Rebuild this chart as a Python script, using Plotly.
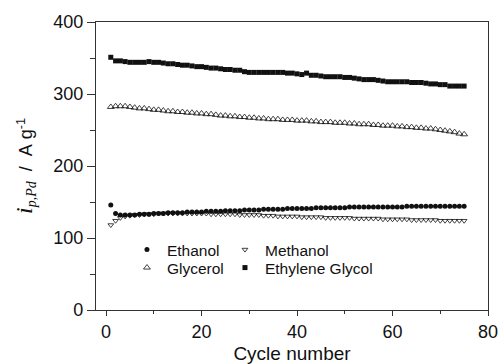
import plotly.graph_objects as go

cycles = list(range(1, 76))

ethanol = [146, 134, 132, 132, 132, 132, 133, 133, 133, 134,
           134, 134, 135, 135, 135, 135, 136, 136, 136, 136,
           137, 137, 137, 137, 138, 138, 138, 138, 139, 139,
           139, 139, 140, 140, 140, 140, 140, 141, 141, 141,
           141, 141, 141, 142, 142, 142, 142, 142, 142, 142,
           143, 143, 143, 143, 143, 143, 143, 143, 143, 143,
           143, 143, 144, 144, 144, 144, 144, 144, 144, 144,
           144, 144, 144, 144, 144]

methanol = [118, 124, 128, 130, 131, 132, 132, 133, 133, 133,
            134, 134, 134, 134, 134, 134, 134, 134, 134, 134,
            134, 133, 133, 133, 133, 133, 133, 132, 132, 132,
            132, 132, 131, 131, 131, 130, 130, 130, 130, 130,
            129, 129, 129, 129, 129, 128, 128, 128, 128, 128,
            128, 127, 127, 127, 127, 127, 127, 126, 126, 126,
            126, 126, 126, 125, 125, 125, 125, 125, 125, 124,
            124, 124, 124, 124, 124]

glycerol = [282, 283, 283, 283, 282, 281, 280, 280, 279, 278,
            278, 277, 276, 276, 275, 275, 274, 274, 273, 273,
            272, 272, 271, 270, 270, 269, 269, 268, 268, 267,
            267, 266, 266, 265, 265, 265, 264, 264, 264, 263,
            263, 263, 262, 262, 261, 261, 261, 260, 260, 260,
            259, 259, 258, 258, 258, 257, 257, 256, 256, 256,
            255, 255, 254, 254, 253, 253, 252, 252, 251, 250,
            249, 248, 247, 245, 244]

ethylene_glycol = [351, 346, 346, 345, 344, 344, 344, 344, 345, 344,
                   344, 343, 342, 342, 341, 340, 340, 339, 338, 338,
                   337, 336, 336, 335, 334, 334, 333, 333, 331, 330,
                   330, 330, 330, 330, 330, 330, 330, 329, 329, 328,
                   327, 329, 326, 326, 325, 324, 324, 324, 324, 323,
                   323, 322, 321, 320, 320, 320, 319, 318, 317, 317,
                   317, 317, 317, 316, 316, 316, 315, 314, 314, 313,
                   313, 311, 311, 311, 311]

x_ticks = [0, 20, 40, 60, 80]
y_ticks = [0, 100, 200, 300, 400]

FONT = "Liberation Sans, Arial, Helvetica"
INK = "#111"

fig = go.Figure()
fig.add_trace(go.Scatter(x=cycles, y=ethanol, name="Ethanol", mode="markers",
                         marker=dict(symbol="circle", size=5, color=INK),
                         legend="legend2"))
fig.add_trace(go.Scatter(x=cycles, y=methanol, name="Methanol", mode="markers",
                         marker=dict(symbol="triangle-down-open", size=5, color=INK,
                                     line=dict(width=0.8)),
                         legend="legend3"))
fig.add_trace(go.Scatter(x=cycles, y=glycerol, name="Glycerol", mode="markers",
                         marker=dict(symbol="triangle-up-open", size=6, color=INK,
                                     line=dict(width=0.8)),
                         legend="legend4"))
fig.add_trace(go.Scatter(x=cycles, y=ethylene_glycol, name="Ethylene Glycol", mode="markers",
                         marker=dict(symbol="square", size=5, color=INK),
                         legend="legend5"))

axis_common = dict(showline=True, linecolor="#333", linewidth=1.2, mirror=True,
                   ticks="outside", tickwidth=1, tickcolor="#333",
                   showgrid=False, zeroline=False, automargin=False,
                   tickfont=dict(family=FONT, size=18, color=INK))

fig.update_xaxes(range=[-2.1, 80], tickvals=x_ticks, ticklen=5, **axis_common,
                 minor=dict(dtick=10, ticks="outside", ticklen=3, tickcolor="#333"),
                 title=dict(text="Cycle number", standoff=5,
                            font=dict(family=FONT, size=19, color=INK)))
fig.update_yaxes(range=[0, 400], tickvals=y_ticks, ticklen=8, **axis_common,
                 minor=dict(dtick=50, ticks="outside", ticklen=5, tickcolor="#333"),
                 title=dict(text="<span style=\"font-family:Liberation Serif;font-style:italic;font-size:24px\">i</span>"
                                 "<sub><span style=\"font-family:Liberation Serif;font-style:italic;font-size:14px\">p,Pd</span></sub>"
                                 "&nbsp;&nbsp;/&nbsp;&nbsp;A&nbsp;g<sup>-1</sup>",
                            standoff=15,
                            font=dict(family=FONT, size=18, color=INK)))

legend_common = dict(orientation="h", xanchor="left", yanchor="middle",
                     bgcolor="rgba(0,0,0,0)",
                     font=dict(family=FONT, size=15.5, color=INK),
                     itemsizing="trace")

y1 = (310 - 250) / 288
y2 = (310 - 268) / 288
fig.update_layout(
    width=501, height=364,
    margin=dict(l=96, r=13, t=22, b=54),
    paper_bgcolor="white", plot_bgcolor="white",
    showlegend=True,
    legend2=dict(x=0.079, y=y1, **legend_common),
    legend3=dict(x=0.329, y=y1, **legend_common),
    legend4=dict(x=0.079, y=y2, **legend_common),
    legend5=dict(x=0.329, y=y2, **legend_common),
)

fig.write_html("out.html")
